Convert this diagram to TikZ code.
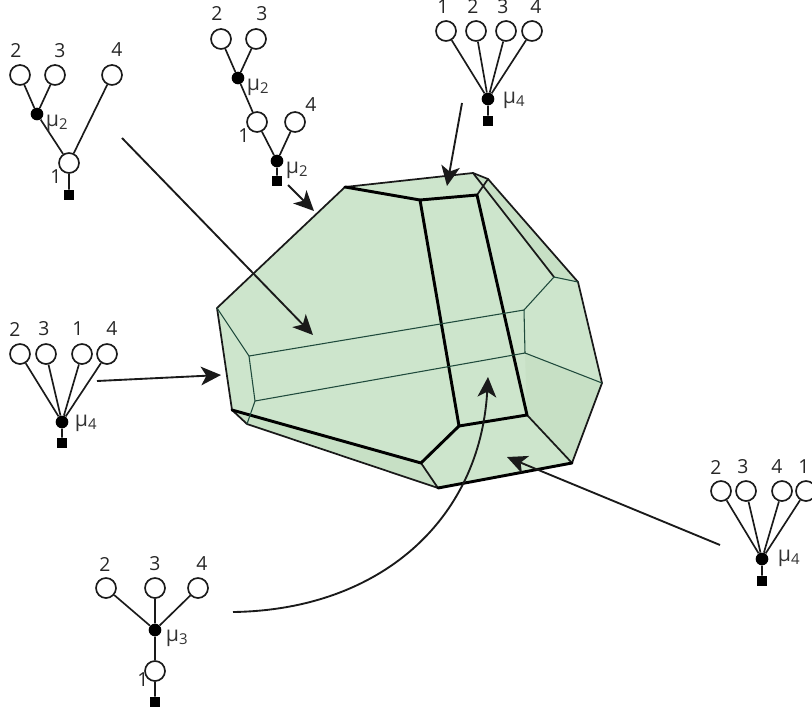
\documentclass[tikz,border=0pt]{standalone}
\usepackage{fontspec}
\setmainfont{Open Sans}
\usetikzlibrary{arrows.meta}
\definecolor{facegreen}{HTML}{CDE5CC}
\definecolor{facedark}{HTML}{C7E0C5}
\definecolor{inkline}{HTML}{1A1A1A}
\definecolor{thinline}{HTML}{1F4A3C}
\tikzset{
  x=0.75pt,y=-0.75pt,
  leaf/.style={circle,draw=inkline,line width=1.25pt,fill=white,minimum size=15pt,inner sep=0pt},
  joint/.style={circle,fill=black,minimum size=9.5pt,inner sep=0pt},
  rootbox/.style={rectangle,fill=black,minimum size=7.5pt,inner sep=0pt},
  edge/.style={draw=inkline,line width=1.25pt},
  num/.style={inner sep=0pt,font=\fontsize{14.5}{15}\selectfont,text=black!85},
  mulab/.style={inner sep=0pt,font=\fontsize{16}{16}\selectfont,text=black!80},
  pointer/.style={draw=inkline,line width=1.4pt,-{Stealth[length=15pt,width=14pt,inset=4pt]}},
  thickedge/.style={draw=black,line width=2.2pt,line cap=round,line join=round},
  midedge/.style={draw=black!90,line width=1.3pt,line cap=round,line join=round},
  thinedge/.style={draw=thinline,line width=0.8pt,line cap=round,line join=round},
}
\begin{document}
\begin{tikzpicture}
\useasboundingbox (0,0) rectangle (812,713);
% polyhedron vertices
\coordinate (pA) at (217,308);
\coordinate (pB) at (345,187);
\coordinate (pC) at (473,173);
\coordinate (pD) at (488,179);
\coordinate (pE) at (578,282);
\coordinate (pF) at (602,383);
\coordinate (pG) at (572,463);
\coordinate (pH) at (438,488);
\coordinate (pI) at (247,424);
\coordinate (pJ) at (232,410);
\coordinate (qA) at (420,200);
\coordinate (qB) at (477,195);
\coordinate (qC) at (459,426);
\coordinate (qD) at (527,415);
\coordinate (qE) at (421,463);
\coordinate (rA) at (249,356);
\coordinate (rB) at (255,401);
\coordinate (rC) at (524,310);
\coordinate (rD) at (525,353);
\coordinate (rE) at (554,277);
% faces
\fill[facegreen] (pA)--(pB)--(pC)--(pD)--(pE)--(pF)--(pG)--(pH)--(pI)--(pJ)--cycle;
\fill[facedark] (rD)--(pF)--(pG)--(qD)--cycle;
\fill[facedark] (pC)--(pD)--(pE)--(rE)--cycle;
\fill[facedark] (pJ)--(pI)--(pH)--(qE)--cycle;
% edges
\draw[midedge] (pJ)--(pA)--(pB)--(pC)--(pD);
\draw[midedge] (pD)--(pE)--(pF)--(pG);
\draw[midedge] (pC)--(rE);
\draw[midedge] (pJ)--(pI)--(pH)--(qE);
\draw[midedge] (qD)--(pG);
\draw[midedge] (pD)--(qB);
\draw[thickedge] (pG)--(pH);
\draw[thickedge] (pJ)--(qE)--(qC)--(qD)--(qB)--(qA)--(pB);
\draw[thickedge] (qA)--(qC);
\draw[thinedge] (pA)--(rA)--(rB)--(pI);
\draw[thinedge] (rA)--(rC)--(rD)--(rB);
\draw[thinedge] (rC)--(rE)--(pE);
\draw[thinedge] (rD)--(pF);
% tree 1
\node[leaf] (aa) at (20,75) {};
\node[leaf] (ab) at (55,75) {};
\node[leaf] (ac) at (112,75) {};
\node[joint] (aj) at (37,114) {};
\node[leaf] (ad) at (69,163) {};
\node[rootbox] (ar) at (69,195) {};
\draw[edge] (aa)--(aj) (ab)--(aj) (aj)--(ad) (ac)--(ad) (ad)--(ar);
\node[num] (al2) at (16,51) {2};
\node[num] (al3) at (60,51) {3};
\node[num] (al4) at (117,50) {4};
\node[num] (al1) at (56,177) {1};
\node[mulab] (am) at (57,123) {μ\textsubscript{2}};
% tree 2
\node[leaf] (ba) at (221,39) {};
\node[leaf] (bb) at (256,39) {};
\node[joint] (bj) at (238,78) {};
\node[leaf] (bc) at (257,122) {};
\node[leaf] (bd) at (295,122) {};
\node[joint] (bk) at (277,161) {};
\node[rootbox] (br) at (277,181) {};
\draw[edge] (ba)--(bj) (bb)--(bj) (bj)--(bc) (bc)--(bk) (bd)--(bk) (bk)--(br);
\node[num] (bl2) at (217,14) {2};
\node[num] (bl3) at (262,14) {3};
\node[num] (bl4) at (311,105) {4};
\node[num] (bl1) at (244,136) {1};
\node[mulab] (bm) at (258,87) {μ\textsubscript{2}};
\node[mulab] (bn) at (297,170) {μ\textsubscript{2}};
% tree 3 (top)
\node[leaf] (ca) at (446,31) {};
\node[leaf] (cb) at (476,31) {};
\node[leaf] (cc) at (506,31) {};
\node[leaf] (cd) at (532,31) {};
\node[joint] (cj) at (488,99) {};
\node[rootbox] (cr) at (488,121) {};
\draw[edge] (ca)--(cj) (cb)--(cj) (cc)--(cj) (cd)--(cj) (cj)--(cr);
\node[num] (cl1) at (443,7) {1};
\node[num] (cl2) at (473,7) {2};
\node[num] (cl3) at (503,7) {3};
\node[num] (cl4) at (536,7) {4};
\node[mulab] (cm) at (514,100) {μ\textsubscript{4}};
% tree 4 (left)
\node[leaf] (da) at (20,354) {};
\node[leaf] (db) at (46,354) {};
\node[leaf] (dc) at (82,354) {};
\node[leaf] (dd) at (107,354) {};
\node[joint] (dj) at (62,422) {};
\node[rootbox] (dr) at (62,443) {};
\draw[edge] (da)--(dj) (db)--(dj) (dc)--(dj) (dd)--(dj) (dj)--(dr);
\node[num] (dl2) at (15,329) {2};
\node[num] (dl3) at (44,329) {3};
\node[num] (dl1) at (78,329) {1};
\node[num] (dl4) at (112,329) {4};
\node[mulab] (dm) at (86,423) {μ\textsubscript{4}};
% tree 5 (right)
\node[leaf] (ea) at (721,491) {};
\node[leaf] (eb) at (746,491) {};
\node[leaf] (ec) at (782,491) {};
\node[leaf] (ed) at (806,491) {};
\node[joint] (ej) at (762,559) {};
\node[rootbox] (er) at (762,581) {};
\draw[edge] (ea)--(ej) (eb)--(ej) (ec)--(ej) (ed)--(ej) (ej)--(er);
\node[num] (el2) at (716,467) {2};
\node[num] (el3) at (743,467) {3};
\node[num] (el4) at (777,467) {4};
\node[num] (el1) at (804,467) {1};
\node[mulab] (em) at (789,558) {μ\textsubscript{4}};
% tree 6 (bottom)
\node[leaf] (fa) at (106,588) {};
\node[leaf] (fb) at (155,588) {};
\node[leaf] (fc) at (198,588) {};
\node[joint] (fj) at (155,630) {};
\node[leaf] (fd) at (155,671) {};
\node[rootbox] (fr) at (155,702) {};
\draw[edge] (fa)--(fj) (fb)--(fj) (fc)--(fj) (fj)--(fd) (fd)--(fr);
\node[num] (fl2) at (105,564) {2};
\node[num] (fl3) at (155,564) {3};
\node[num] (fl4) at (202,564) {4};
\node[num] (fl1) at (143,680) {1};
\node[mulab] (fm) at (177,638) {μ\textsubscript{3}};
% pointers
\coordinate (s1) at (122,138); \coordinate (t1) at (313,335);
\coordinate (s2) at (288,185); \coordinate (t2) at (314,211);
\coordinate (s3) at (462,103); \coordinate (t3) at (447,186);
\coordinate (s4) at (97,381);  \coordinate (t4) at (221,375);
\coordinate (s5) at (720,545); \coordinate (t5) at (507,457);
\coordinate (s6) at (233,612); \coordinate (t6) at (488,377);
\draw[pointer] (s1)--(t1);
\draw[pointer] (s2)--(t2);
\draw[pointer] (s3)--(t3);
\draw[pointer] (s4)--(t4);
\draw[pointer] (s5)--(t5);
\draw[pointer] (s6) .. controls (380,610) and (480,520) .. (t6);
\end{tikzpicture}
\end{document}
